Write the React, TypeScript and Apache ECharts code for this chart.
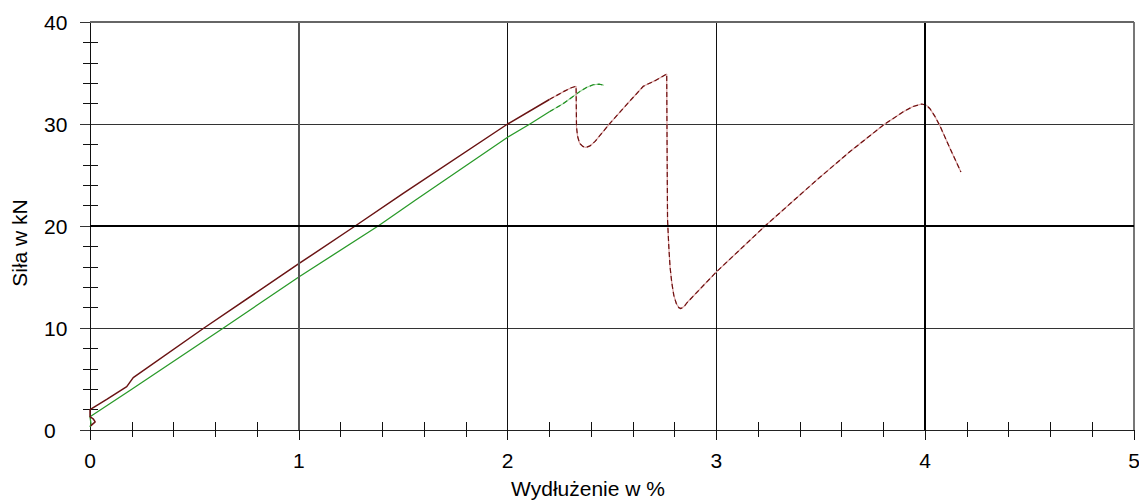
import { useEffect, useRef } from "react";
import * as echarts from "echarts";

// Elongation (%) / force (kN) readings
const redSolidX = [0.003, 0.025, 0.015, 0.0, 0.0, 0.08, 0.176, 0.207, 0.546, 1.0, 1.27, 1.5, 2.0, 2.2];
const redSolidY = [0.4, 0.8, 1.1, 1.3, 2.0, 3.0, 4.25, 5.13, 10.0, 16.3, 20.0, 23.2, 30.0, 32.4];

const redDashX = [2.2, 2.27, 2.305, 2.328, 2.33, 2.335, 2.345, 2.36, 2.375, 2.395, 2.419, 2.49, 2.57, 2.65, 2.706, 2.762, 2.764, 2.766, 2.772, 2.778, 2.786, 2.796, 2.808, 2.82, 2.83, 2.845, 2.86, 3.0, 3.233, 3.48, 3.64, 3.8, 3.895, 3.94, 3.983, 4.005, 4.023, 4.045, 4.071, 4.119, 4.171];
const redDashY = [32.4, 33.2, 33.55, 33.7, 29.7, 28.8, 28.1, 27.8, 27.7, 27.85, 28.3, 30.07, 31.9, 33.7, 34.25, 34.9, 27.0, 20.6, 18.0, 16.0, 14.5, 13.2, 12.4, 12.0, 11.9, 12.1, 12.5, 15.5, 20.0, 24.5, 27.3, 29.9, 31.2, 31.7, 31.96, 31.85, 31.5, 30.8, 29.8, 27.6, 25.3];

const greenSolidX = [0.0, 0.005, 0.0, 0.2, 0.639, 1.0, 1.38, 1.556, 2.0, 2.107, 2.2];
const greenSolidY = [0.3, 0.6, 1.3, 4.0, 10.0, 15.0, 20.0, 22.5, 28.7, 30.0, 31.2];

const greenDashX = [2.2, 2.267, 2.347, 2.38, 2.41, 2.44, 2.462];
const greenDashY = [31.2, 32.0, 33.2, 33.6, 33.85, 33.9, 33.8];

const xMin = 0;
const xMax = 5;
const yMin = 0;
const yMax = 40;

const xTitle = "Wydłużenie w %";
const yTitle = "Siła w kN";

const zip = (xs: number[], ys: number[]) => xs.map((x, i) => [x, ys[i]]);

const FONT = "'Liberation Sans', Arial, sans-serif";

export default function App() {
  const ref = useRef<HTMLDivElement>(null);

  useEffect(() => {
    const chart = echarts.init(ref.current!, null, { renderer: "svg" });
    const labelStyle = { color: "#000", fontSize: 21, fontFamily: FONT };
    chart.setOption({
      animation: false,
      backgroundColor: "#fff",
      grid: { left: 90, right: 5, top: 22, bottom: 72, containLabel: false, outerBoundsMode: "none" },
      xAxis: [
        {
          type: "value",
          position: "bottom",
          min: xMin,
          max: xMax,
          interval: 1,
          name: xTitle,
          nameLocation: "middle",
          nameGap: 48,
          nameTextStyle: { ...labelStyle, padding: [0, 48, 0, 0] },
          axisLine: { show: true, onZero: false, lineStyle: { color: "#222", width: 1 } },
          axisTick: { show: true, length: 10, lineStyle: { color: "#111", width: 1 } },
          minorTick: { show: true, splitNumber: 5, length: 7, lineStyle: { color: "#111", width: 1 } },
          axisLabel: { ...labelStyle, margin: 20 },
          splitLine: { show: true, lineStyle: { color: "#111", width: 1 } },
        },
        {
          type: "value",
          position: "bottom",
          min: xMin,
          max: xMax,
          interval: 1,
          axisLine: { show: false },
          axisTick: { show: false, inside: true },
          minorTick: { show: true, splitNumber: 5, length: 8, lineStyle: { color: "#111", width: 1 } },
          axisLabel: { show: false },
          splitLine: { show: false },
        },
      ],
      yAxis: [
        {
          type: "value",
          position: "left",
          min: yMin,
          max: yMax,
          interval: 10,
          name: yTitle,
          nameLocation: "middle",
          nameGap: 60,
          nameTextStyle: { ...labelStyle, padding: [0, 34, 0, 0] },
          axisLine: { show: true, onZero: false, lineStyle: { color: "#111", width: 1 } },
          axisTick: { show: true, length: 10, lineStyle: { color: "#333", width: 1 } },
          minorTick: { show: true, splitNumber: 5, length: 7, lineStyle: { color: "#111", width: 1 } },
          axisLabel: { ...labelStyle, margin: 46, align: "left" },
          splitLine: { show: true, lineStyle: { color: "#333", width: 1 } },
        },
        {
          type: "value",
          position: "left",
          min: yMin,
          max: yMax,
          interval: 10,
          axisLine: { show: false },
          axisTick: { show: false, inside: true },
          minorTick: { show: true, splitNumber: 5, length: 8, lineStyle: { color: "#111", width: 1 } },
          axisLabel: { show: false },
          splitLine: { show: false },
        },
      ],
      series: [
        {
          type: "line",
          data: [],
          silent: true,
          markLine: {
            silent: true,
            symbol: "none",
            label: { show: false },
            data: [
              { xAxis: 1, lineStyle: { color: "#555", width: 2, type: "solid" } },
              { xAxis: 4, lineStyle: { color: "#000", width: 2, type: "solid" } },
              { xAxis: 5, lineStyle: { color: "#777", width: 2, type: "solid" } },
              { yAxis: 20, lineStyle: { color: "#000", width: 2, type: "solid" } },
              { yAxis: 40, lineStyle: { color: "#666", width: 2, type: "solid" } },
            ],
          },
        },
        {
          type: "line",
          data: zip(greenSolidX, greenSolidY),
          showSymbol: false,
          lineStyle: { color: "#2a9a2a", width: 1.3 },
        },
        {
          type: "line",
          data: zip(greenDashX, greenDashY),
          showSymbol: false,
          lineStyle: { color: "#9fd49f", width: 1.2 },
        },
        {
          type: "line",
          data: zip(greenDashX, greenDashY),
          showSymbol: false,
          lineStyle: { color: "#1f8f1f", width: 1.2, type: [5, 3] },
        },
        {
          type: "line",
          data: zip(redSolidX, redSolidY),
          showSymbol: false,
          lineStyle: { color: "#6a1414", width: 1.5 },
        },
        {
          type: "line",
          data: zip(redDashX, redDashY),
          showSymbol: false,
          lineStyle: { color: "#dba3a3", width: 1.2 },
        },
        {
          type: "line",
          data: zip(redDashX, redDashY),
          showSymbol: false,
          lineStyle: { color: "#6e1010", width: 1.2, type: [5, 3] },
        },
      ],
    });
    return () => chart.dispose();
  }, []);

  return (
    <div
      ref={ref}
      style={{ position: "fixed", left: 0, top: 0, width: 1139, height: 502 }}
    />
  );
}
